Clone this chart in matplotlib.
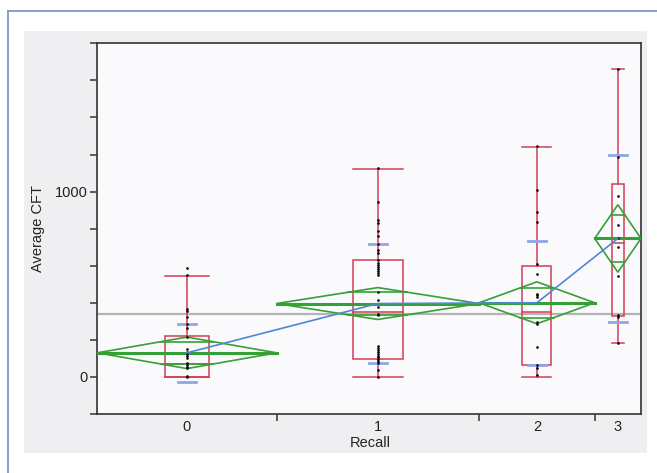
import numpy as np
import matplotlib.pyplot as plt
from matplotlib.patches import Rectangle, Polygon
from matplotlib.lines import Line2D

plt.rcParams['font.family'] = ['Liberation Sans', 'DejaVu Sans']

# Recall groups; JMP makes each group as wide as its count
groups = ['0', '1', '2', '3']
counts = [31, 35, 20, 8]

# summary values
means = [130, 396, 400, 747]
ci_half = [85, 86, 113, 182]
std_dev = [155, 322, 335, 449]
q1 = [0, 95, 62, 328]
medians = [69, 351, 353, 722]
q3 = [222, 632, 598, 1040]
whisk_lo = [0, 0, 0, 181]
whisk_hi = [545, 1120, 1242, 1660]
grand_mean = 339

# raw Average CFT values per group
pts0 = [590, 548, 364, 357, 324, 283, 262, 217, 150, 136, 125, 115, 100, 74, 65, 55, 47, 7, 0]
pts1 = [1127, 942, 844, 828, 790, 763, 718, 683, 667, 629, 615, 605, 595, 585, 570, 560, 548,
        458, 414, 378, 342, 333, 165, 155, 145, 135, 125, 115, 105, 95, 85, 75, 38, 2]
pts2 = [1247, 1009, 889, 835, 607, 557, 450, 441, 432, 297, 288, 163, 65, 47, 11]
pts3 = [1660, 1188, 978, 822, 747, 700, 547, 333, 324, 181]
all_pts = [pts0, pts1, pts2, pts3]

red = '#d43c55'
green = '#35a035'
W, H = 657, 473

fig = plt.figure(figsize=(W / 100, H / 100), dpi=100)
fig.patch.set_facecolor('white')

# grey panel and the thin blue frame of the report
fig.add_artist(Rectangle((24 / W, 1 - 453 / H), (647 - 24) / W, (453 - 31) / H,
                         transform=fig.transFigure, fc='#efeff2', ec='none', zorder=0))
fig.add_artist(Line2D([8 / W, 8 / W], [0, 1 - 11 / H], transform=fig.transFigure,
                      color='#8096c8', lw=1.3))
fig.add_artist(Line2D([8 / W, 1], [1 - 11 / H, 1 - 11 / H], transform=fig.transFigure,
                      color='#8096c8', lw=1.3))

ax = fig.add_axes([97.3 / W, 1 - 414 / H, (641 - 97.3) / W, (414 - 43.3) / H])
ax.set_facecolor('#fafafd')
ax.set_xlim(0, sum(counts))
ax.set_ylim(-200, 1800)

edges = np.concatenate([[0], np.cumsum(counts)])
centers = (edges[:-1] + edges[1:]) / 2

ax.axhline(grand_mean, color='#b4b4b4', lw=1.6, zorder=1)

for i in range(len(groups)):
    w = counts[i]
    c = centers[i]
    bw = 0.25 * w
    # outlier box plot
    ax.add_patch(Rectangle((c - bw / 2, q1[i]), bw, q3[i] - q1[i], fill=False, ec=red, lw=1.1, zorder=2))
    ax.plot([c - bw / 2, c + bw / 2], [medians[i]] * 2, color=red, lw=1.1, zorder=2)
    ax.plot([c, c], [q3[i], whisk_hi[i]], color=red, lw=1.1, zorder=2)
    ax.plot([c, c], [whisk_lo[i], q1[i]], color=red, lw=1.1, zorder=2)
    ax.plot([c - bw / 2, c + bw / 2], [whisk_hi[i]] * 2, color=red, lw=1.1, zorder=2)
    ax.plot([c - bw / 2, c + bw / 2], [whisk_lo[i]] * 2, color=red, lw=1.1, zorder=2)

    # means diamond with overlap marks
    m, h = means[i], ci_half[i]
    ax.add_patch(Polygon([[edges[i], m], [c, m + h], [edges[i + 1], m], [c, m - h]],
                         closed=True, fill=False, ec=green, lw=1.2, zorder=3))
    ax.plot([edges[i], edges[i + 1]], [m, m], color=green, lw=2.2, zorder=3)
    off = h / np.sqrt(2)
    half = w / 2 * (1 - 1 / np.sqrt(2))
    for s in (1, -1):
        ax.plot([c - half, c + half], [m + s * off] * 2, color=green, lw=1.2, zorder=3)
        # std dev lines
        ax.plot([c - 1.6, c + 1.6], [m + s * std_dev[i]] * 2, color='#8fa6e4', lw=2, zorder=4)

    p = all_pts[i]
    ax.scatter(np.full(len(p), c), p, s=3.5, c='black', marker='o', lw=0, zorder=5)

ax.plot(centers, means, color='#4f87d4', lw=1.2, zorder=6)

# axes styling
yt = np.arange(-200, 1801, 200)
ax.set_yticks(yt)
ax.set_yticklabels([str(v) if v in (0, 1000) else '' for v in yt])
ax.set_xticks(edges[1:-1])
ax.set_xticklabels([])
ax.set_xticks(centers, minor=True)
ax.set_xticklabels(groups, minor=True)
ax.tick_params(axis='both', which='major', direction='out', length=5, width=1.1,
               color='#333333', labelsize=10.5, labelcolor='#222222', pad=2)
ax.tick_params(axis='x', which='minor', length=0, labelsize=10.5, labelcolor='#222222', pad=4)
for sp in ax.spines.values():
    sp.set_color('#333333')
    sp.set_linewidth(1.2)

fig.text(38 / W, 1 - 228 / H, 'Average CFT', rotation=90, ha='center', va='center',
         fontsize=10.5, color='#222222')
fig.text(370 / W, 1 - 443 / H, 'Recall', ha='center', va='center', fontsize=10.5, color='#222222')

fig.savefig('out.png', dpi=100)
